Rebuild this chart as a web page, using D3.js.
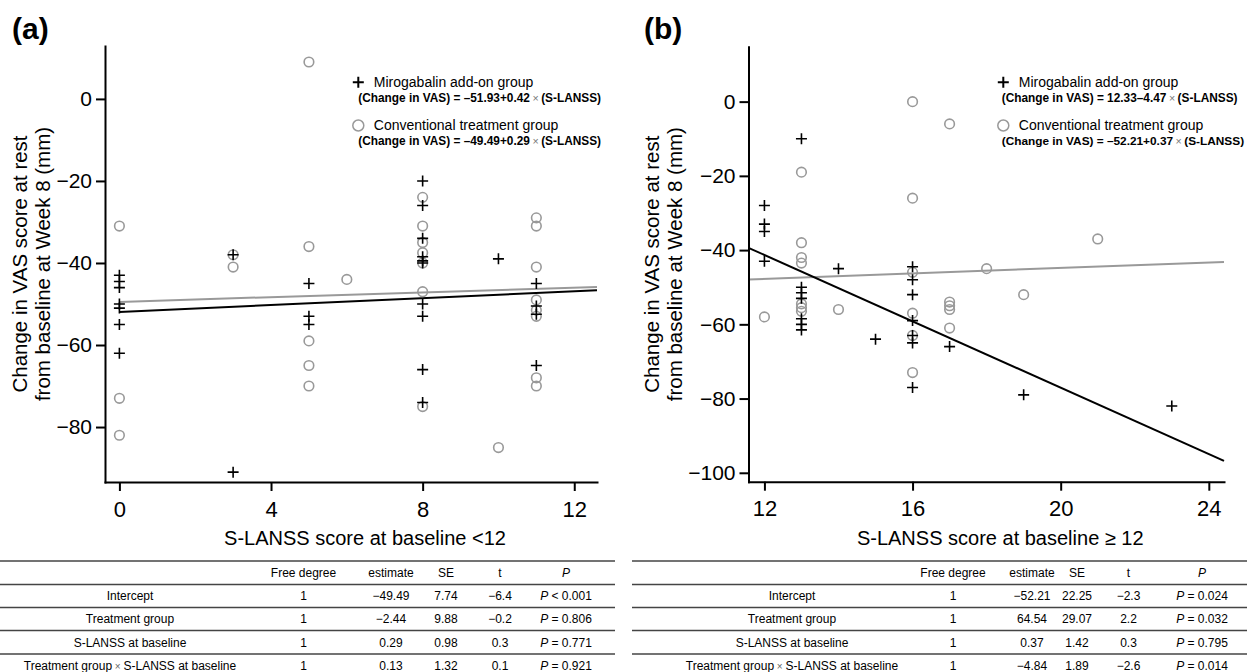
<!DOCTYPE html>
<html>
<head>
<meta charset="utf-8">
<script src="https://cdn.jsdelivr.net/npm/d3@7"></script>
<style>
body { margin: 0; background: #fff; }
svg { display: block; }
text { font-family: "Liberation Sans", Arial, sans-serif; fill: #000; }
</style>
</head>
<body>
<svg id="chart" width="1247" height="672"></svg>
<script>
// panel (a): S-LANSS score at baseline < 12
const aMiroX = [0,0,0,0,0,0,0, 3,3, 5,5,5, 8,8,8,8,8,8,8,8,8,8, 10, 11,11,11,11];
const aMiroY = [-43,-44.5,-46,-50,-51,-55,-62, -38,-91, -45,-53,-55, -20,-26,-34,-38.5,-39.5,-40,-50,-53,-66,-74, -39, -45,-50.5,-52.5,-65];
const aConvX = [0,0,0, 3,3, 5,5,5,5,5, 6, 8,8,8,8,8,8,8, 10, 11,11,11,11,11,11,11,11];
const aConvY = [-31,-73,-82, -38,-41, 9,-36,-59,-65,-70, -44, -24,-31,-35,-37.5,-40,-47,-75, -85, -29,-31,-41,-49,-51.5,-53,-68,-70];
const aMiroFit = [-51.93, 0.42];
const aConvFit = [-49.49, 0.29];
const aXTicks = [0, 4, 8, 12];
const aYTicks = [0, -20, -40, -60, -80];

// panel (b): S-LANSS score at baseline >= 12
const bMiroX = [12,12,12,12, 13,13,13,13,13,13,13, 14, 15, 16,16,16,16,16,16,16, 17, 19, 23];
const bMiroY = [-28,-33,-35,-43, -10,-50,-51.5,-53,-58.5,-60,-61.5, -45, -64, -44.5,-48,-52,-59,-63,-65,-77, -66, -79, -82];
const bConvX = [12, 13,13,13,13,13,13,13, 14, 16,16,16,16,16,16, 17,17,17,17,17, 18, 19, 21];
const bConvY = [-58, -19,-38,-42,-43.5,-54.5,-55.5,-56.5, -56, 0,-26,-46,-57,-63,-73, -6,-54,-55,-56,-61, -45, -52, -37];
const bMiroFit = [12.33, -4.47];
const bConvFit = [-52.21, 0.37];
const bXTicks = [12, 16, 20, 24];
const bYTicks = [0, -20, -40, -60, -80, -100];

const groupNames = ["Mirogabalin add-on group", "Conventional treatment group"];
const aEquations = ["(Change in VAS) = \u201351.93+0.42", "(Change in VAS) = \u201349.49+0.29"];
const bEquations = ["(Change in VAS) = 12.33\u20134.47", "(Change in VAS) = \u201352.21+0.37"];

// regression tables
const tableHeader = ["", "Free degree", "estimate", "SE", "t", "P"];
const tableTerms = ["Intercept", "Treatment group", "S-LANSS at baseline", "Treatment group|S-LANSS at baseline"];
const tableDf = ["1", "1", "1", "1"];
const aEstimate = ["\u221249.49", "\u22122.44", "0.29", "0.13"];
const aSE = ["7.74", "9.88", "0.98", "1.32"];
const aT = ["\u22126.4", "\u22120.2", "0.3", "0.1"];
const aP = ["< 0.001", "= 0.806", "= 0.771", "= 0.921"];
const bEstimate = ["\u221252.21", "64.54", "0.37", "\u22124.84"];
const bSE = ["22.25", "29.07", "1.42", "1.89"];
const bT = ["\u22122.3", "2.2", "0.3", "\u22122.6"];
const bP = ["= 0.024", "= 0.032", "= 0.795", "= 0.014"];

const GRAY = "#999";
const svg = d3.select("#chart");

function drawPanel(o){
    let g = svg.append("g");
    let x = d3.scaleLinear().domain(o.xDomain).range([o.left, o.right]);
    let y = d3.scaleLinear().domain(o.yDomain).range([o.bottom, o.top]);

    // regression lines
    let fit = function(c){
        return d3.line()
            .x(function(d){ return x(d); })
            .y(function(d){ return y(c[0] + c[1] * d); });
    };
    g.append("path").datum(o.fitRange).attr("d", fit(o.convFit))
        .attr("fill", "none").attr("stroke", GRAY).attr("stroke-width", 2);
    g.append("path").datum(o.fitRange).attr("d", fit(o.miroFit))
        .attr("fill", "none").attr("stroke", "#000").attr("stroke-width", 2);

    // conventional: open gray circles
    g.selectAll(".conv").data(d3.range(o.convX.length)).enter().append("circle")
        .attr("class", "conv")
        .attr("cx", function(i){ return x(o.convX[i]); })
        .attr("cy", function(i){ return y(o.convY[i]); })
        .attr("r", 4.8)
        .attr("fill", "none").attr("stroke", GRAY).attr("stroke-width", 1.6);

    // mirogabalin: plus signs
    g.selectAll(".miro").data(d3.range(o.miroX.length)).enter().append("path")
        .attr("class", "miro")
        .attr("transform", function(i){ return "translate(" + x(o.miroX[i]) + "," + y(o.miroY[i]) + ")"; })
        .attr("d", "M-5.5,0H5.5M0,-5.5V5.5")
        .attr("stroke", "#000").attr("stroke-width", 1.6);

    // axes
    let yAxis = g.append("g")
        .attr("transform", "translate(" + o.left + ",0)")
        .call(d3.axisLeft(y).tickValues(o.yTicks).tickSize(9).tickSizeOuter(0).tickPadding(4));
    let xAxis = g.append("g")
        .attr("transform", "translate(0," + o.bottom + ")")
        .call(d3.axisBottom(x).tickValues(o.xTicks).tickSize(9).tickSizeOuter(0).tickPadding(10));
    [xAxis, yAxis].forEach(function(a){
        a.select(".domain").attr("stroke-width", 2).attr("stroke-linecap", "square");
        a.selectAll(".tick line").attr("stroke-width", 2);
        a.selectAll(".tick text").style("font-size", "21px").style("font-family", "'Liberation Sans', Arial, sans-serif");
    });
    xAxis.selectAll(".tick text").style("font-size", "22px");

    // axis titles
    g.append("text")
        .attr("x", (o.left + o.right) / 2 + 14).attr("y", 545)
        .attr("text-anchor", "middle").style("font-size", "20px")
        .text(o.xTitle);
    let cy = (o.top + o.bottom) / 2;
    ["Change in VAS score at rest", "from baseline at Week 8 (mm)"].forEach(function(t, i){
        g.append("text")
            .attr("transform", "translate(" + (o.labelX + 27 + i * 22.5) + "," + cy + ") rotate(-90)")
            .attr("text-anchor", "middle").style("font-size", "20.5px")
            .text(t);
    });

    // panel letter
    g.append("text")
        .attr("x", o.labelX + 12).attr("y", 39)
        .style("font-size", "30px").style("font-weight", "bold")
        .text("(" + o.key + ")");

    // legend
    let lg = g.append("g");
    lg.append("path")
        .attr("transform", "translate(" + o.legX + ",82.3)")
        .attr("d", "M-5.5,0H5.5M0,-5.5V5.5")
        .attr("stroke", "#000").attr("stroke-width", 2);
    lg.append("circle").attr("cx", o.legX).attr("cy", 125.5).attr("r", 5.5)
        .attr("fill", "none").attr("stroke", GRAY).attr("stroke-width", 1.5);
    [87, 129.5].forEach(function(yy, i){
        lg.append("text").attr("x", o.legX + 15.5).attr("y", yy)
            .style("font-size", "14px").text(groupNames[i]);
    });
    // equations: bold, with a light multiplication sign; font sized to fit the width
    [102, 145].forEach(function(yy, i){
        let parts = [
            {txt: o.equations[i], bold: true},
            {txt: "\u00d7", bold: false},
            {txt: "(S-LANSS)", bold: true}
        ];
        let base = 12.5, gap = 2.5;
        let nodes = parts.map(function(p){
            return lg.append("text").attr("y", yy)
                .style("font-weight", p.bold ? "bold" : "normal")
                .style("fill", p.bold ? "#000" : "#777")
                .style("font-size", (p.bold ? base : base * 0.9) + "px")
                .text(p.txt);
        });
        let widths = nodes.map(function(n){ return n.node().getComputedTextLength(); });
        let k = (o.eqWidth[i] - 2 * gap) / d3.sum(widths);
        let cx = o.eqX;
        nodes.forEach(function(n, j){
            n.style("font-size", (parts[j].bold ? base * k : base * 0.9 * k) + "px").attr("x", cx);
            cx += n.node().getComputedTextLength() + gap;
        });
    });
}

function drawTable(o){
    let g = svg.append("g");
    let lineY = [561, 584.5, 607.5, 630.5, 654, 677];
    g.selectAll("line").data(lineY).enter().append("line")
        .attr("x1", o.x0).attr("x2", o.x1)
        .attr("y1", function(d){ return d; }).attr("y2", function(d){ return d; })
        .attr("stroke", "#444").attr("stroke-width", 1.6);

    let rowY = function(i){ return (lineY[i] + lineY[i + 1]) / 2 + 4.3; };
    let cell = function(col, row, txt){
        return g.append("text").attr("x", o.cols[col]).attr("y", rowY(row))
            .attr("text-anchor", "middle").style("font-size", "12px").text(txt);
    };

    tableHeader.forEach(function(h, c){
        if(!h) return;
        let t = cell(c, 0, h);
        if(h === "P") t.style("font-style", "italic");
    });

    tableTerms.forEach(function(term, r){
        let parts = term.split("|");
        let t = cell(0, r + 1, "");
        t.append("tspan").text(parts[0]);
        if(parts.length > 1){
            t.append("tspan").style("fill", "#666").style("font-size", "10px").text(" \u00d7 ");
            t.append("tspan").text(parts[1]);
        }
        cell(1, r + 1, tableDf[r]);
        cell(2, r + 1, o.est[r]);
        cell(3, r + 1, o.se[r]);
        cell(4, r + 1, o.t[r]);
        let p = cell(5, r + 1, "");
        p.append("tspan").style("font-style", "italic").text("P");
        p.append("tspan").text(" " + o.p[r]);
    });
}

drawPanel({
    key: "a", labelX: 0,
    left: 105, right: 597, top: 46, bottom: 482,
    xDomain: [-0.38, 12.6], yDomain: [-93.4, 12.9],
    xTicks: aXTicks, yTicks: aYTicks,
    miroX: aMiroX, miroY: aMiroY, convX: aConvX, convY: aConvY,
    miroFit: aMiroFit, convFit: aConvFit, fitRange: [0, 12.6],
    xTitle: "S-LANSS score at baseline <12",
    legX: 358.3, eqX: 358.3, eqWidth: [243, 243], equations: aEquations
});

drawPanel({
    key: "b", labelX: 632,
    left: 748.5, right: 1224, top: 46.7, bottom: 481.7,
    xDomain: [11.57, 24.41], yDomain: [-102.4, 14.8],
    xTicks: bXTicks, yTicks: bYTicks,
    miroX: bMiroX, miroY: bMiroY, convX: bConvX, convY: bConvY,
    miroFit: bMiroFit, convFit: bConvFit, fitRange: [11.57, 24.41],
    xTitle: "S-LANSS score at baseline \u2265 12",
    legX: 1003.3, eqX: 1001.7, eqWidth: [236, 242.5], equations: bEquations
});

drawTable({x0: 0, x1: 615, cols: [130, 303.5, 391, 446, 500, 566],
    est: aEstimate, se: aSE, t: aT, p: aP});
drawTable({x0: 632, x1: 1247, cols: [792, 953, 1032, 1077, 1128.5, 1202],
    est: bEstimate, se: bSE, t: bT, p: bP});
</script>
</body>
</html>
